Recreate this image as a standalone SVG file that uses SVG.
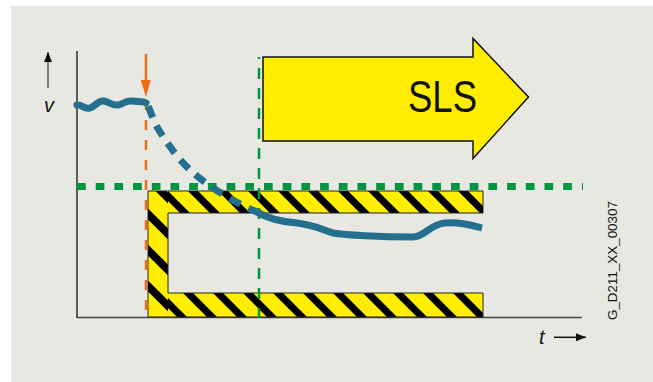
<svg xmlns="http://www.w3.org/2000/svg" width="653" height="382" viewBox="0 0 653 382">
<style>
.lbl{font-family:"Liberation Sans",Arial,sans-serif;fill:#111}
.it{font-style:italic;font-size:20px}
.grn{fill:none;stroke:#00963f}
.stripe{stroke:#000;fill:none}
</style>
<defs>
<pattern id="hatchTop" patternUnits="userSpaceOnUse" x="0" y="0" width="30" height="30">
<rect width="30" height="30" fill="#ffee00"/>
<path class="stripe" d="M-40,-42 L60,58 M-10,-42 L90,58 M-70,-42 L30,58" stroke-width="7.1"/>
</pattern>
<pattern id="hatchBot" patternUnits="userSpaceOnUse" x="0" y="0" width="30" height="30">
<rect width="30" height="30" fill="#ffee00"/>
<path class="stripe" d="M-40,-55 L60,45 M-10,-55 L90,45 M-70,-55 L30,45" stroke-width="7.1"/>
</pattern>
<pattern id="hatchLeft" patternUnits="userSpaceOnUse" x="0" y="0" width="36" height="36">
<rect width="36" height="36" fill="#ffee00"/>
<path class="stripe" d="M-44,-50 L66,60 M-8,-50 L102,60 M-80,-50 L30,60" stroke-width="7.8"/>
</pattern>
<marker id="ah" viewBox="0 0 10 8" refX="10" refY="4" markerWidth="10" markerHeight="8" markerUnits="userSpaceOnUse" orient="auto">
<path d="M0,0 L10,4 L0,8 Z" fill="#111"/>
</marker>
</defs>
<rect x="0" y="0" width="653" height="382" fill="#ffffff"/>
<rect x="11" y="6" width="642" height="376" fill="#e8e8e2"/>

<g id="axes">
<line x1="77" y1="51" x2="77" y2="318" stroke="#111" stroke-width="1.3"/>
<line x1="77" y1="317.5" x2="582" y2="317.5" stroke="#444" stroke-width="1.5"/>
<line x1="48" y1="88" x2="48" y2="52" stroke="#555" stroke-width="1.5" marker-end="url(#ah)"/>
<line x1="554" y1="337.3" x2="586" y2="337.3" stroke="#111" stroke-width="1.5" marker-end="url(#ah)"/>
</g>

<g id="limit-frame">
<rect x="148" y="191" width="20" height="126" fill="url(#hatchLeft)"/>
<rect x="168" y="191" width="315" height="22" fill="url(#hatchTop)"/>
<rect x="168" y="293" width="315" height="24" fill="url(#hatchBot)"/>
<path d="M148,191 H483 V213 H168 V293 H483 V317 H148 Z" fill="none" stroke="#222" stroke-width="1"/>
</g>

<g id="sls-arrow">
<path d="M263,57 H473 V38.5 L528.5,97 L473,158.5 V141 H263 Z" fill="#ffee00" stroke="#111" stroke-width="1.5" stroke-linejoin="miter"/>
<text class="lbl" x="408" y="111.7" font-size="44" textLength="69" lengthAdjust="spacingAndGlyphs">SLS</text>
</g>

<g id="connectors">
<line class="grn" x1="77" y1="186.5" x2="583" y2="186.5" stroke-width="7" stroke-dasharray="8.7 10"/>
<line class="grn" x1="259" y1="57" x2="259" y2="318" stroke-width="2.5" stroke-dasharray="11 9" stroke-dashoffset="9"/>
<line x1="146" y1="54" x2="146" y2="82" stroke="#ef6d16" stroke-width="2.5"/>
<path d="M140.7,80 L150.7,80 L146,97 Z" fill="#ef6d16"/>
<line x1="146" y1="100" x2="146" y2="318" stroke="#ef6d16" stroke-width="2.5" stroke-dasharray="10 10"/>
<g fill="none" stroke="#246f8e" stroke-width="7">
<path d="M77,105 C82,104 84,110 90,108 C96,106 98,100 104,101 C110,102 112,106 118,105 C124,104 126,100 132,101 C138,102 143,101 146,103" stroke-linecap="round"/>
<path d="M146,103 C150,108 152,118 157,127 C165,140 175,155 188,168 C200,180 225,198 257,212" stroke-dasharray="12 9" stroke-dashoffset="-4"/>
<path d="M257,212 C265,217 275,221 297,223 C315,225 322,230 333,233 C345,235 380,237 413,237 C425,237 430,224 445,223 C460,222 470,225 482,228"/>
</g>
</g>

<g id="labels">
<text class="lbl it" x="44" y="111.5">v</text>
<text class="lbl it" x="539" y="344">t</text>
<text class="lbl" font-size="13.4" transform="translate(617,320) rotate(-90)">G_D211_XX_00307</text>
</g>
</svg>
